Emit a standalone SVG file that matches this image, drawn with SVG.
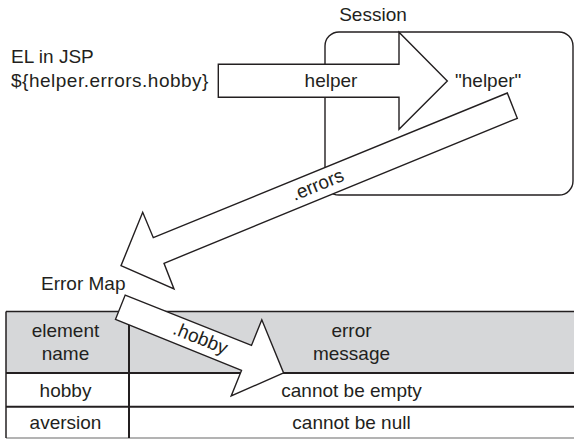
<svg xmlns="http://www.w3.org/2000/svg" width="574" height="439" viewBox="0 0 574 439">
<style>
text{font-family:"Liberation Sans",Arial,sans-serif;font-size:19px;fill:#231f20}
.c{text-anchor:middle}
.arrow{fill:#fff;stroke:#231f20;stroke-width:1.4;stroke-linejoin:miter}
.line{stroke:#231f20;fill:none}
</style>
<rect width="574" height="439" fill="#fff"/>
<g id="el-label">
<text x="11" y="63">EL in JSP</text>
<text x="11" y="87" letter-spacing="0.5">${helper.errors.hobby}</text>
</g>
<g id="session">
<rect x="325" y="32" width="248" height="163" rx="14" ry="14" fill="#fff" stroke="#231f20" stroke-width="1.4"/>
<text class="c" x="373" y="21">Session</text>
</g>
<g id="table">
<rect x="6" y="311.5" width="570" height="61.5" fill="#d6d7d9"/>
<rect x="6" y="373" width="570" height="65" fill="#fff"/>
<line class="line" x1="6" y1="311.5" x2="574" y2="311.5" stroke-width="1.5"/>
<line class="line" x1="6" y1="373" x2="574" y2="373" stroke-width="2"/>
<line class="line" x1="6" y1="406.7" x2="574" y2="406.7" stroke-width="2"/>
<line x1="6" y1="438" x2="574" y2="438" stroke="#9a9a9a" stroke-width="1.5"/>
<line class="line" x1="6" y1="311.5" x2="6" y2="438" stroke-width="1.5"/>
<line class="line" x1="129" y1="311.5" x2="129" y2="438" stroke-width="2"/>
<text class="c" x="65.5" y="337">element</text>
<text class="c" x="65.5" y="360">name</text>
<text class="c" x="351.5" y="337">error</text>
<text class="c" x="351.5" y="360">message</text>
<text class="c" x="65.5" y="397">hobby</text>
<text class="c" x="351.5" y="397">cannot be empty</text>
<text class="c" x="65.5" y="428.5">aversion</text>
<text class="c" x="351.5" y="428.5">cannot be null</text>
</g>
<g id="error-map">
<text x="41" y="290">Error Map</text>
</g>
<g id="connectors">
<g id="arrow-helper">
<polygon class="arrow" points="218.3,64.3 399,64.3 399,32.3 447.3,81 399,129.3 399,97.3 218.3,97.3"/>
<text class="c" x="331" y="87">helper</text>
</g>
<g id="arrow-errors">
<polygon class="arrow" points="507.3,93 153.3,237.7 142.7,212.3 121,265.7 174,289 164,263.3 517.3,118.3"/>
<text class="c" transform="translate(318,186) rotate(-22.3)" x="0" y="5">.errors</text>
</g>
<g id="arrow-hobby">
<polygon class="arrow" points="125.2,295.1 251.5,345.4 261.8,319.8 283.6,372.9 231.2,396 241.5,370.4 115.5,319.3"/>
<text class="c" transform="translate(200,339.5) rotate(21.9)" x="0" y="5">.hobby</text>
</g>
</g>
<g id="helper-key">
<text x="455" y="87">"helper"</text>
</g>
</svg>
